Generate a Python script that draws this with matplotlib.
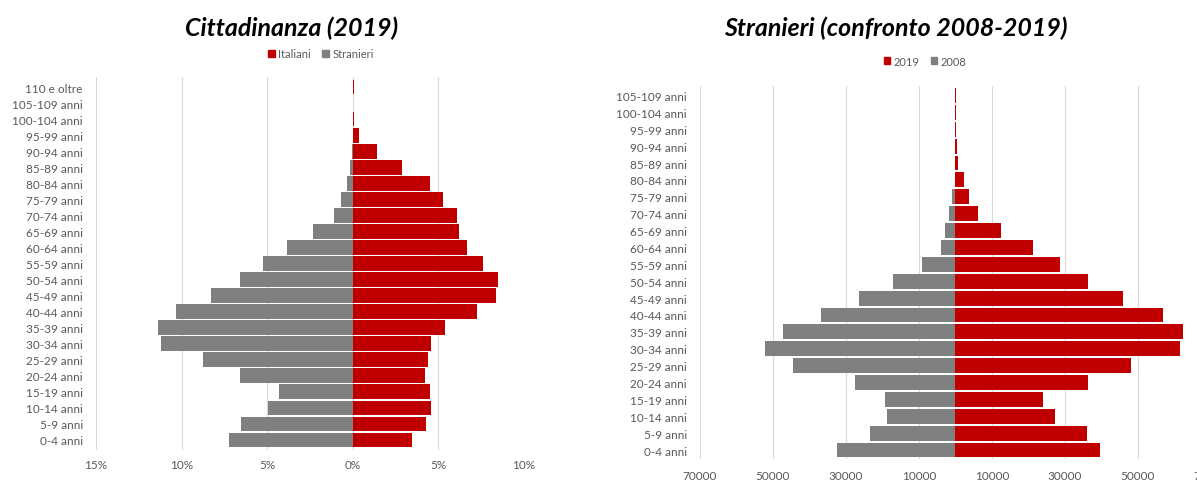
import matplotlib
matplotlib.use("Agg")
import matplotlib.pyplot as plt
import numpy as np
from matplotlib.patches import Patch

plt.rcParams["font.family"] = ["Lato", "DejaVu Sans"]

RED = "#c00000"
GRAY = "#808080"
GRID = "#d9d9d9"
TEXT = "#595959"

# age classes, bottom to top
ages_cit = [
    "0-4 anni", "5-9 anni", "10-14 anni", "15-19 anni", "20-24 anni",
    "25-29 anni", "30-34 anni", "35-39 anni", "40-44 anni", "45-49 anni",
    "50-54 anni", "55-59 anni", "60-64 anni", "65-69 anni", "70-74 anni",
    "75-79 anni", "80-84 anni", "85-89 anni", "90-94 anni", "95-99 anni",
    "100-104 anni", "105-109 anni", "110 e oltre",
]
italiani_pct = [3.47, 4.26, 4.57, 4.50, 4.19, 4.37, 4.55, 5.38, 7.25, 8.36,
                8.51, 7.61, 6.69, 6.19, 6.06, 5.27, 4.50, 2.88, 1.44, 0.38,
                0.05, 0.03, 0.05]
stranieri_pct = [7.21, 6.53, 4.93, 4.32, 6.58, 8.76, 11.22, 11.37, 10.32, 8.31,
                 6.58, 5.23, 3.83, 2.32, 1.10, 0.68, 0.34, 0.14, 0.02, 0.0,
                 0.0, 0.0, 0.0]
pct_ticks = [-15, -10, -5, 0, 5, 10]

ages_str = ages_cit[:-1]
stranieri_2019 = [39600, 36100, 27300, 23900, 36300, 48100, 61600, 62300,
                  56800, 45800, 36300, 28600, 21200, 12600, 6200, 3700, 2200,
                  800, 400, 250, 150, 100]
stranieri_2008 = [32500, 23300, 18800, 19200, 27600, 44600, 52100, 47300,
                  36900, 26500, 17100, 9300, 4100, 2800, 1900, 1000, 250, 50,
                  20, 0, 0, 0]
abs_ticks = list(range(-70000, 70001, 20000))

W, H = 1197, 481
fig = plt.figure(figsize=(W / 100, H / 100), dpi=100)


def px_axes(left, top, right, bottom):
    return fig.add_axes([left / W, 1 - bottom / H, (right - left) / W, (bottom - top) / H])


def style(axis, labels, ticks, ticklabels, pad_x):
    axis.set_yticks(range(len(labels)))
    axis.set_yticklabels(labels, fontsize=8.5, color=TEXT)
    axis.set_xticks(ticks)
    axis.set_xticklabels(ticklabels, fontsize=8.5, color=TEXT)
    axis.tick_params(axis="both", length=0)
    axis.tick_params(axis="y", pad=9.5)
    axis.tick_params(axis="x", pad=pad_x)
    for spine in axis.spines.values():
        spine.set_visible(False)
    axis.grid(axis="x", color=GRID, linewidth=0.8)
    axis.set_axisbelow(True)


def legend(handles, x, y):
    fig.legend(handles=handles, loc="center", bbox_to_anchor=(x / W, 1 - y / H),
               ncol=2, frameon=False, fontsize=8, labelcolor=TEXT,
               handlelength=0.6, handleheight=0.6, handletextpad=0.3,
               columnspacing=1.0)


# left pyramid: citizenship shares
ax1 = px_axes(96, 78.4, 524, 450.6)
y1 = np.arange(len(ages_cit))
ax1.barh(y1, italiani_pct, height=0.92, color=RED)
ax1.barh(y1, [-v for v in stranieri_pct], height=0.92, color=GRAY)
ax1.set_xlim(-15, 10)
ax1.set_ylim(-0.6, len(ages_cit) - 0.4)
style(ax1, ages_cit, pct_ticks, [f"{abs(t)}%" for t in pct_ticks], 6.5)
fig.text(292 / W, 1 - 28 / H, "Cittadinanza (2019)", ha="center", va="center",
         fontsize=18, fontweight="bold", fontstyle="italic", color="black")
legend([Patch(color=RED, label="Italiani"), Patch(color=GRAY, label="Stranieri")], 321, 55)

# right pyramid: foreign residents 2008 vs 2019
ax2 = px_axes(700, 87.2, 1211, 460.3)
y2 = np.arange(len(ages_str))
ax2.barh(y2, stranieri_2019, height=0.88, color=RED)
ax2.barh(y2, [-v for v in stranieri_2008], height=0.88, color=GRAY)
ax2.set_xlim(-70000, 70000)
ax2.set_ylim(-0.55, len(ages_str) - 0.45)
style(ax2, ages_str, abs_ticks, [str(abs(t)) for t in abs_ticks], 7.5)
fig.text(896 / W, 1 - 28 / H, "Stranieri (confronto 2008-2019)", ha="center", va="center",
         fontsize=18, fontweight="bold", fontstyle="italic", color="black")
legend([Patch(color=RED, label="2019"), Patch(color=GRAY, label="2008")], 925, 62)

fig.savefig("out.png", dpi=100)
